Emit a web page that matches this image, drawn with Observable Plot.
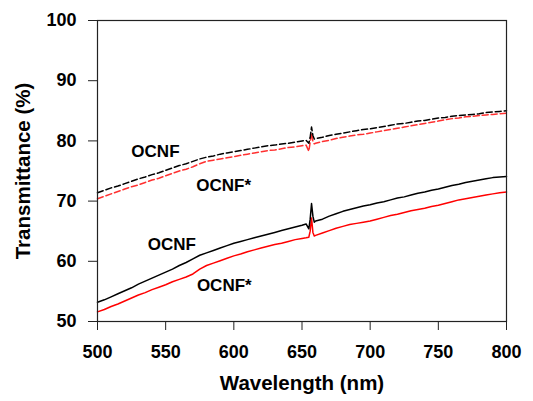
<!DOCTYPE html>
<html>
<head>
<meta charset="utf-8">
<script src="https://cdn.jsdelivr.net/npm/d3@7"></script>
<script src="https://cdn.jsdelivr.net/npm/@observablehq/plot@0.6"></script>
<style>
  html, body { margin: 0; padding: 0; background: #fff; }
  #chart svg { display: block; }
</style>
</head>
<body>
<div id="chart"></div>
<script>
// Wavelength grid (nm)
const wavelengths = [
  500,505,510,515,520,525,530,535,540,545,550,555,560,565,570,575,580,585,590,595,
  600,605,610,615,620,625,630,635,640,645,650,653,655,656,657,658,659,
  660,665,670,675,680,685,690,695,700,705,710,715,720,725,730,735,740,745,750,
  755,760,765,770,775,780,785,790,795,800
];

// Upper pair (dashed)
const ocnfUpper = [
  71.4,71.8,72.2,72.5,72.9,73.3,73.7,74.0,74.4,74.7,75.1,75.5,75.9,76.2,76.6,77.0,77.3,77.5,77.8,78.0,
  78.2,78.4,78.6,78.8,79.0,79.2,79.3,79.5,79.6,79.8,80.0,80.1,79.6,80.6,82.3,80.9,80.3,
  80.4,80.6,80.9,81.1,81.3,81.5,81.7,81.9,82.0,82.2,82.4,82.6,82.8,82.9,83.1,83.3,83.4,83.6,83.8,
  83.9,84.1,84.2,84.3,84.4,84.5,84.7,84.8,84.9,85.0
];
const ocnfStarUpper = [
  70.4,70.8,71.2,71.6,72.0,72.4,72.7,73.1,73.5,73.8,74.2,74.6,75.0,75.3,75.7,76.2,76.6,76.8,77.0,77.2,
  77.4,77.6,77.8,78.0,78.2,78.4,78.5,78.7,78.9,79.0,79.2,79.3,78.3,79.8,81.3,79.9,79.5,
  79.6,79.9,80.1,80.4,80.6,80.8,81.0,81.1,81.3,81.5,81.7,81.9,82.1,82.3,82.5,82.7,82.9,83.1,83.3,
  83.5,83.7,83.8,84.0,84.1,84.2,84.3,84.4,84.5,84.6
];

// Lower pair (solid)
const ocnfLower = [
  53.2,53.6,54.1,54.6,55.1,55.6,56.2,56.7,57.2,57.7,58.2,58.7,59.3,59.8,60.4,61.0,61.4,61.8,62.2,62.6,
  63.0,63.3,63.6,63.9,64.2,64.5,64.8,65.1,65.4,65.7,66.0,66.2,65.4,67.0,69.6,67.5,66.5,
  66.7,67.0,67.5,67.9,68.3,68.6,68.9,69.2,69.4,69.7,69.9,70.2,70.5,70.7,71.0,71.3,71.5,71.8,72.0,
  72.3,72.6,72.8,73.1,73.3,73.5,73.7,73.9,74.0,74.1
];
const ocnfStarLower = [
  51.6,52.0,52.5,52.9,53.4,53.9,54.4,54.8,55.3,55.7,56.1,56.6,57.0,57.4,57.9,58.7,59.3,59.7,60.1,60.5,
  60.9,61.2,61.6,61.9,62.2,62.5,62.8,63.0,63.3,63.6,63.8,63.9,64.0,65.0,67.2,64.8,64.2,
  64.3,64.7,65.1,65.5,65.8,66.1,66.3,66.5,66.7,67.0,67.3,67.6,67.8,68.1,68.4,68.6,68.8,69.1,69.3,
  69.6,69.9,70.2,70.4,70.6,70.8,71.0,71.2,71.4,71.5
];

// Annotation labels (data coordinates)
const labelText = ["OCNF", "OCNF*", "OCNF", "OCNF*"];
const labelX = [542.5, 592.5, 554.5, 593];
const labelY = [78.2, 72.6, 62.8, 56.0];

const xTicks = [500, 550, 600, 650, 700, 750, 800];
const yTicks = [50, 60, 70, 80, 90, 100];

const toRows = (vals) => wavelengths.map((w, i) => ({w, v: vals[i]}));
const labels = labelText.map((t, i) => ({t, x: labelX[i], y: labelY[i]}));

const FONT = "'Liberation Sans', Arial, Helvetica, sans-serif";

const chart = Plot.plot({
  width: 533,
  height: 401,
  marginLeft: 97,
  marginRight: 27,
  marginTop: 20,
  marginBottom: 80,
  style: {fontFamily: FONT, fontWeight: "bold", fontSize: "18px", background: "#fff", color: "#000"},
  x: {domain: [500, 800], ticks: xTicks, label: null},
  y: {domain: [50, 100], ticks: yTicks, label: null},
  marks: [
    Plot.line(toRows(ocnfStarUpper), {x: "w", y: "v", stroke: "#ff3030", strokeWidth: 1.5, strokeDasharray: "6,3"}),
    Plot.line(toRows(ocnfUpper), {x: "w", y: "v", stroke: "#000", strokeWidth: 1.5, strokeDasharray: "6,3"}),
    Plot.line(toRows(ocnfStarLower), {x: "w", y: "v", stroke: "#ff0000", strokeWidth: 1.5}),
    Plot.line(toRows(ocnfLower), {x: "w", y: "v", stroke: "#000", strokeWidth: 1.5}),
    Plot.text(labels, {x: "x", y: "y", text: "t", fontSize: 17, fontWeight: "bold", fill: "#000"}),
    Plot.frame({stroke: "#222", strokeWidth: 1.2}),
    Plot.axisX(xTicks, {tickSize: 9, tickFormat: () => "", stroke: "#222", label: null}),
    Plot.axisY(yTicks, {tickSize: 9, tickFormat: () => "", stroke: "#222", label: null}),
    Plot.text(xTicks, {x: d => d, frameAnchor: "bottom", dy: 31, lineAnchor: "middle", textAnchor: "middle", fontSize: 18, fontWeight: "bold", fill: "#000"}),
    Plot.text(yTicks, {y: d => d, frameAnchor: "left", dx: -21, lineAnchor: "middle", textAnchor: "end", fontSize: 18, fontWeight: "bold", fill: "#000"}),
    Plot.text(["Wavelength (nm)"], {frameAnchor: "bottom", dy: 68, fontSize: 20.5, fontWeight: "bold", fill: "#000", textAnchor: "middle"}),
    Plot.text(["Transmittance (%)"], {frameAnchor: "left", dx: -74, rotate: -90, fontSize: 20.5, fontWeight: "bold", fill: "#000", textAnchor: "middle"})
  ]
});
document.getElementById("chart").appendChild(chart);
</script>
</body>
</html>
